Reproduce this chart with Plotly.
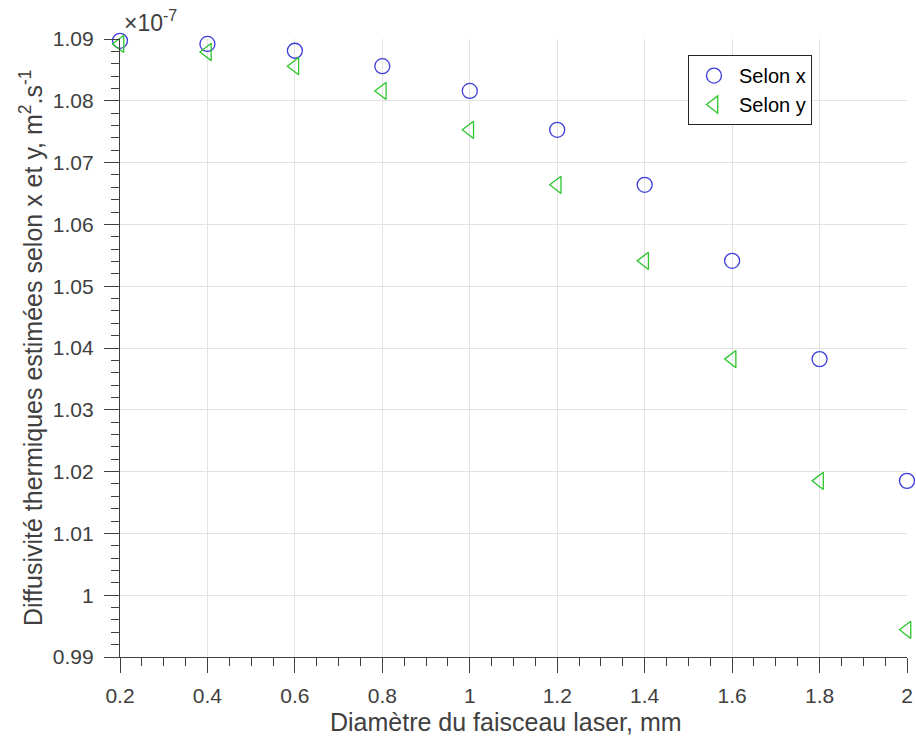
import plotly.graph_objects as go

diam = [0.2, 0.4, 0.6, 0.8, 1.0, 1.2, 1.4, 1.6, 1.8, 2.0]
selon_x = [1.0897, 1.0892, 1.0881, 1.0856, 1.0816, 1.0753, 1.0664, 1.0541, 1.0382, 1.0185]
selon_y = [1.0892, 1.0879, 1.0856, 1.0816, 1.0753, 1.0664, 1.0541, 1.0382, 1.0185, 0.9944]
y_ticks = [0.99, 1.00, 1.01, 1.02, 1.03, 1.04, 1.05, 1.06, 1.07, 1.08, 1.09]
y_ticktext = ["0.99", "1", "1.01", "1.02", "1.03", "1.04", "1.05", "1.06", "1.07", "1.08", "1.09"]
x_ticks = [0.2, 0.4, 0.6, 0.8, 1.0, 1.2, 1.4, 1.6, 1.8, 2.0]
x_ticktext = ["0.2", "0.4", "0.6", "0.8", "1", "1.2", "1.4", "1.6", "1.8", "2"]

axcol = "#404040"
font = "Liberation Sans, Arial, sans-serif"

fig = go.Figure()
fig.add_trace(go.Scatter(
    x=diam, y=selon_x, mode="markers", name="Selon x",
    marker=dict(symbol="circle-open", size=15, color="#3c3cdc", line=dict(width=1.3)),
    cliponaxis=False))
fig.add_trace(go.Scatter(
    x=diam, y=selon_y, mode="markers", name="Selon y",
    marker=dict(symbol="triangle-left-open", size=15, color="#2ec52e", line=dict(width=1.3)),
    cliponaxis=False))

fig.update_layout(
    width=916, height=747,
    margin=dict(l=120, r=9, t=39, b=90),
    paper_bgcolor="white", plot_bgcolor="white",
    font=dict(family=font, color=axcol, size=21),
    legend=dict(x=0.7217, y=0.974, xanchor="left", yanchor="top",
                bordercolor="#262626", borderwidth=1, bgcolor="white",
                font=dict(size=20, color="black"), itemwidth=40,
                tracegroupgap=0),
    showlegend=True,
)
fig.update_xaxes(
    range=[0.2, 2.0], tickvals=x_ticks, ticktext=x_ticktext, automargin=False,
    showline=True, linecolor=axcol, linewidth=1.2,
    ticks="outside", ticklen=15, tickwidth=1.2, tickcolor=axcol, ticklabelstandoff=5,
    minor=dict(ticks="outside", ticklen=8, tickwidth=1.2, tickcolor=axcol, dtick=0.05, showgrid=False),
    showgrid=True, gridcolor="#e3e3e3", gridwidth=1, zeroline=False,
    tickfont=dict(size=21, color=axcol),
)
fig.update_yaxes(
    range=[0.99, 1.09], tickvals=y_ticks, ticktext=y_ticktext, automargin=False,
    showline=True, linecolor=axcol, linewidth=1.2,
    ticks="outside", ticklen=15, tickwidth=1.2, tickcolor=axcol, ticklabelstandoff=6,
    minor=dict(ticks="outside", ticklen=8, tickwidth=1.2, tickcolor=axcol, dtick=0.002, showgrid=False),
    showgrid=True, gridcolor="#e3e3e3", gridwidth=1, zeroline=False,
    tickfont=dict(size=21, color=axcol),
)
fig.add_annotation(
    xref="paper", yref="paper", x=0.5, y=0, xanchor="center", yanchor="middle",
    yshift=-65, xshift=-8, text="Diamètre du faisceau laser, mm", showarrow=False,
    font=dict(size=25, color=axcol))
fig.add_annotation(
    xref="paper", yref="paper", x=0, y=0.5, xanchor="center", yanchor="middle",
    xshift=-89, textangle=-90,
    text="Diffusivité thermiques estimées selon x et y, m<sup>2</sup>.s<sup>-1</sup>",
    showarrow=False, font=dict(size=25, color=axcol))
fig.add_annotation(
    xref="paper", yref="paper", x=0, y=1, xanchor="left", yanchor="bottom",
    text="×10<sup>-7</sup>", showarrow=False, font=dict(size=23, color=axcol),
    yshift=1, xshift=2)

fig.write_html(
    "out.html",
    config={"displayModeBar": False},
    post_script="document.body.style.margin='0';document.body.style.overflow='hidden';",
)
